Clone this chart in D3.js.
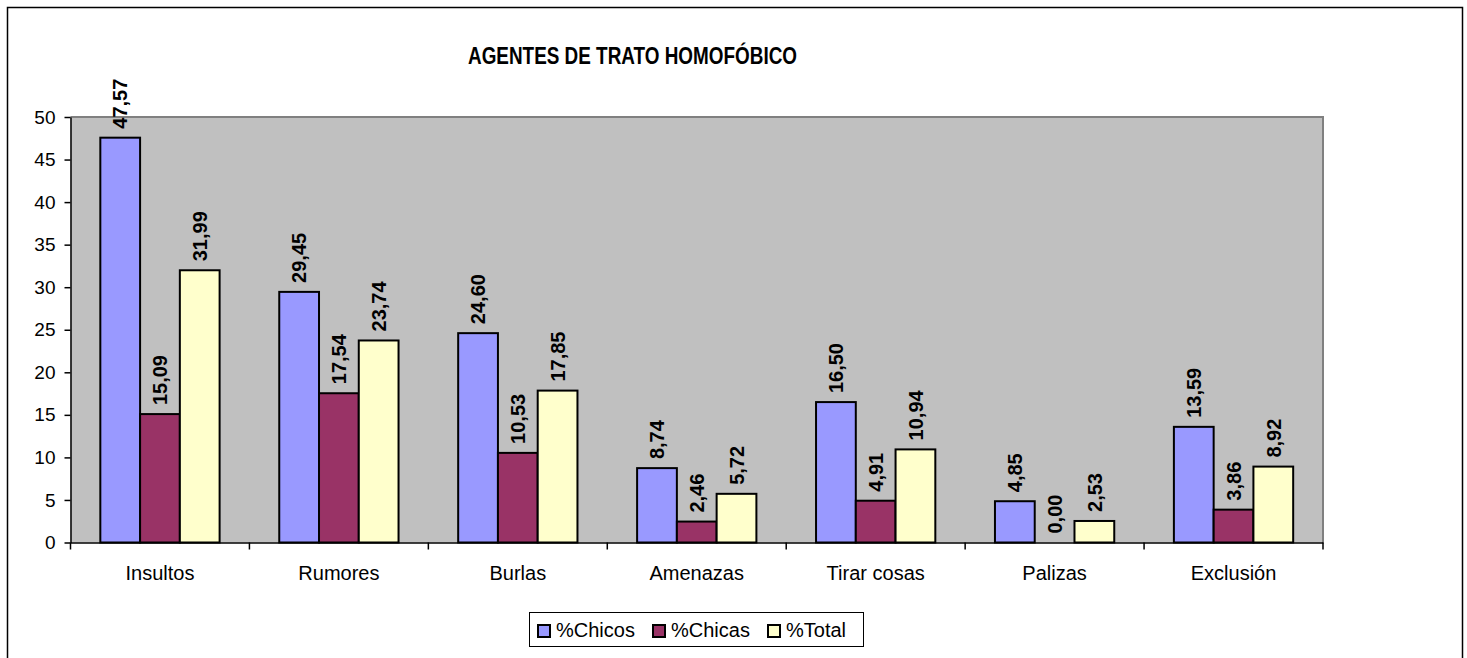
<!DOCTYPE html>
<html>
<head>
<meta charset="utf-8">
<script src="https://cdn.jsdelivr.net/npm/d3@7/dist/d3.min.js"></script>
<style>
  html, body { margin: 0; padding: 0; background: #fff; }
  svg { display: block; font-family: "Liberation Sans", Arial, sans-serif; }
</style>
</head>
<body>
<svg id="chart" width="1467" height="658"></svg>
<script>
const title = "AGENTES DE TRATO HOMOFÓBICO";
const categories = ["Insultos", "Rumores", "Burlas", "Amenazas", "Tirar cosas", "Palizas", "Exclusión"];
const seriesNames = ["%Chicos", "%Chicas", "%Total"];
const chicos = [47.57, 29.45, 24.60, 8.74, 16.50, 4.85, 13.59];
const chicas = [15.09, 17.54, 10.53, 2.46, 4.91, 0.00, 3.86];
const total  = [31.99, 23.74, 17.85, 5.72, 10.94, 2.53, 8.92];
const yTicks = [0, 5, 10, 15, 20, 25, 30, 35, 40, 45, 50];
const colors = ["#9999FF", "#993366", "#FFFFCC"];

const seriesValues = [chicos, chicas, total];
const svg = d3.select("#chart");

// outer chart border
svg.append("rect")
  .attr("x", 7.5).attr("y", 7.5)
  .attr("width", 1455).attr("height", 700)
  .attr("fill", "#fff").attr("stroke", "#000").attr("stroke-width", 1.5);

const plot = { left: 70.5, right: 1323, top: 117, bottom: 542.5 };

const x = d3.scaleBand().domain(categories).range([plot.left, plot.right]).paddingInner(0).paddingOuter(0);
const xs = d3.scaleBand().domain(seriesNames).range([0, x.bandwidth()]).paddingInner(0).paddingOuter(0.75);
const y = d3.scaleLinear().domain([0, 50]).range([plot.bottom, plot.top]);

// plot background
svg.append("rect")
  .attr("x", plot.left).attr("y", plot.top)
  .attr("width", plot.right - plot.left).attr("height", plot.bottom - plot.top)
  .attr("fill", "#C0C0C0");
// top & right border of plot area
svg.append("path")
  .attr("d", `M${plot.left},${plot.top}H${plot.right}V${plot.bottom}`)
  .attr("fill", "none").attr("stroke", "#808080").attr("stroke-width", 2);

// bars
const rows = categories.map((c, i) => ({ cat: c, vals: seriesNames.map((s, j) => ({ s, j, v: seriesValues[j][i] })) }));
const groups = svg.append("g").selectAll("g").data(rows).join("g")
  .attr("transform", d => `translate(${x(d.cat)},0)`);

groups.selectAll("rect").data(d => d.vals).join("rect")
  .attr("x", d => xs(d.s))
  .attr("y", d => y(d.v))
  .attr("width", xs.bandwidth())
  .attr("height", d => y(0) - y(d.v))
  .attr("fill", d => colors[d.j])
  .attr("stroke", "#000").attr("stroke-width", 2)
  .attr("visibility", d => d.v > 0 ? "visible" : "hidden");

// data labels
groups.selectAll("text").data(d => d.vals).join("text")
  .attr("transform", d => `translate(${xs(d.s) + xs.bandwidth() / 2},${y(d.v) - 9}) rotate(-90)`)
  .attr("text-anchor", "start")
  .attr("dy", "0.36em")
  .attr("font-size", 20).attr("font-weight", "bold").attr("fill", "#000")
  .text(d => d.v.toFixed(2).replace(".", ","));

// y axis
const yAxis = d3.axisLeft(y).tickValues(yTicks).tickSize(6).tickSizeOuter(0).tickPadding(9);
const gy = svg.append("g").attr("transform", `translate(${plot.left},0)`).call(yAxis);
gy.select(".domain").attr("stroke", "#000").attr("stroke-width", 1.5);
gy.selectAll(".tick line").attr("stroke", "#000").attr("stroke-width", 1.5);
gy.selectAll(".tick text").attr("font-size", 19).attr("fill", "#000")
  .attr("font-family", '"Liberation Sans", Arial, sans-serif');

// x axis
const xAxis = d3.axisBottom(x).tickSize(0).tickPadding(23);
const gx = svg.append("g").attr("transform", `translate(0,${plot.bottom})`).call(xAxis);
gx.select(".domain").attr("stroke", "#000").attr("stroke-width", 1.5);
gx.selectAll(".tick text").attr("font-size", 20).attr("fill", "#000")
  .attr("font-family", '"Liberation Sans", Arial, sans-serif');
// category boundary ticks
const bounds = categories.map(c => x(c)).concat([plot.right]);
svg.append("g").selectAll("line").data(bounds).join("line")
  .attr("x1", d => d).attr("x2", d => d)
  .attr("y1", plot.bottom).attr("y2", plot.bottom + 7)
  .attr("stroke", "#000").attr("stroke-width", 1.5);

// title
svg.append("text")
  .attr("x", 632.5).attr("y", 64)
  .attr("text-anchor", "middle")
  .attr("font-size", 23).attr("font-weight", "bold")
  .attr("textLength", 329).attr("lengthAdjust", "spacingAndGlyphs")
  .text(title);

// legend
const legend = svg.append("g");
legend.append("rect")
  .attr("x", 529.5).attr("y", 612.5).attr("width", 334).attr("height", 34)
  .attr("fill", "#fff").attr("stroke", "#000").attr("stroke-width", 1);
const legendX = [537, 652, 767];
const legendItems = legend.selectAll("g.item").data(seriesNames).join("g")
  .attr("class", "item")
  .attr("transform", (d, i) => `translate(${legendX[i]},624)`);
legendItems.append("rect")
  .attr("x", 1).attr("y", 1).attr("width", 12).attr("height", 12)
  .attr("fill", (d, i) => colors[i]).attr("stroke", "#000").attr("stroke-width", 2);
legendItems.append("text")
  .attr("x", 19).attr("y", 13)
  .attr("font-size", 20).attr("fill", "#000")
  .text(d => d);
</script>
</body>
</html>
